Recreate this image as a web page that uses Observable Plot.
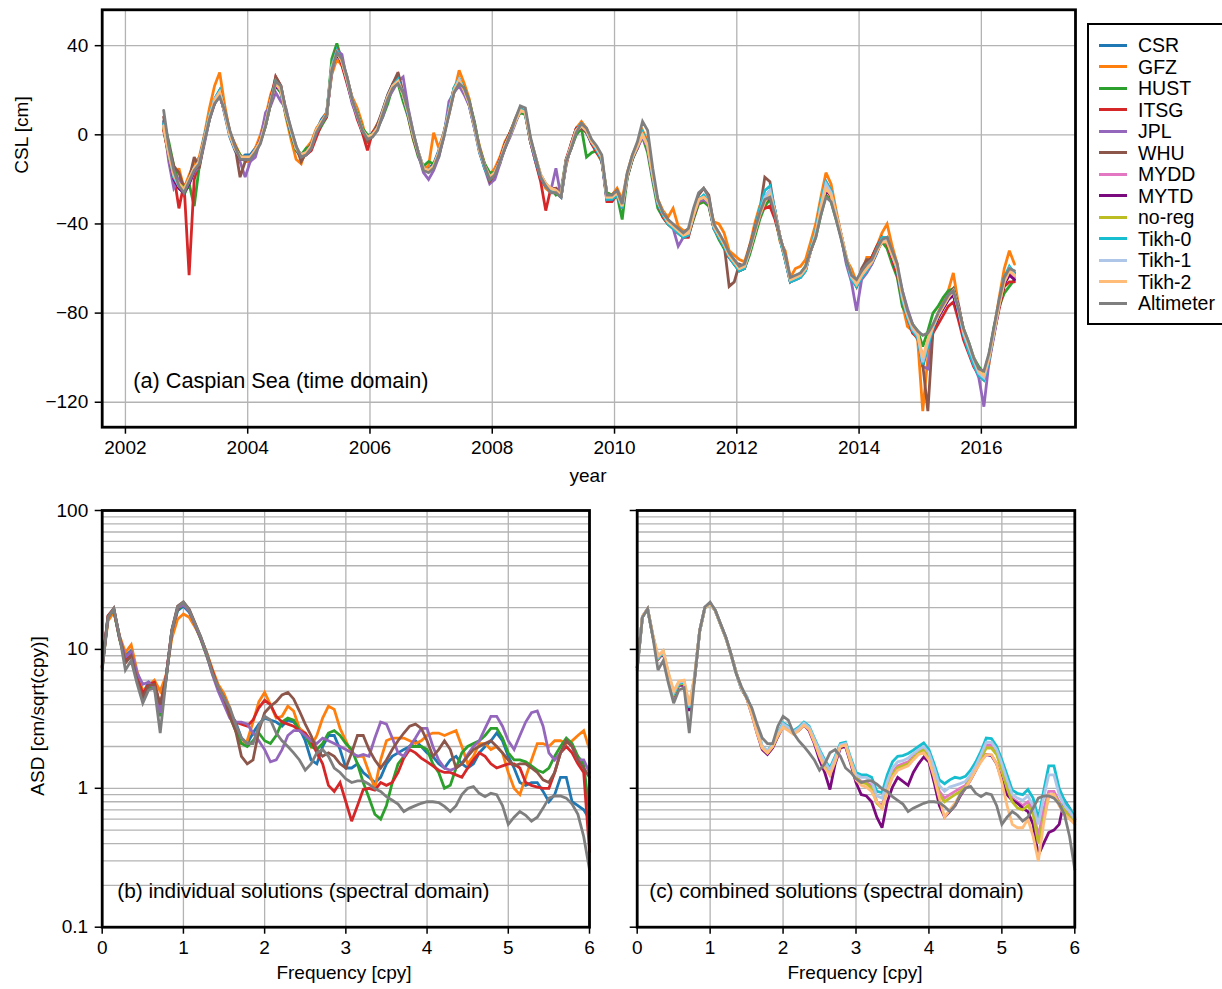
<!DOCTYPE html>
<html><head><meta charset="utf-8">
<script src="https://cdn.jsdelivr.net/npm/d3@7"></script>
<script src="https://cdn.jsdelivr.net/npm/@observablehq/plot@0.6"></script>
<style>
body{margin:0;background:#fff;font-family:"Liberation Sans",Arial,Helvetica,sans-serif;}
#wrap{position:relative;width:1222px;height:989px;overflow:hidden;background:#fff;}
#wrap svg{position:absolute;}
.ttl{position:absolute;font-size:19px;color:#000;white-space:nowrap;line-height:22px;}
.rot{transform:translate(-50%,-50%) rotate(-90deg);}
.ctr{transform:translate(-50%,-50%);}
</style></head><body><div id="wrap"></div>
<script>
// ---------- names / colours ----------
const seriesNames = ["CSR","GFZ","HUST","ITSG","JPL","WHU","MYDD","MYTD","no-reg","Tikh-0","Tikh-1","Tikh-2","Altimeter"];
const seriesColors = ["#1f77b4","#ff7f0e","#2ca02c","#d62728","#9467bd","#8c564b","#e377c2","#7b0a7e","#bcbd22","#17becf","#aec7e8","#ffbb78","#7f7f7f"];
const individualNames = ["CSR","GFZ","HUST","ITSG","JPL","WHU","Altimeter"];
const combinedNames = ["MYDD","MYTD","no-reg","Tikh-0","Tikh-1","Tikh-2","Altimeter"];

// ---------- axis ticks ----------
const yearTicks = [2002,2004,2006,2008,2010,2012,2014,2016];
const cslTicks = [-120,-80,-40,0,40];
const freqTicks = [0,1,2,3,4,5,6];
const asdTicks = [0.1,1,10,100];
const asdTickLabels = ["0.1","1","10","100"];

// ---------- (a) monthly CSL [cm], Aug 2002 .. Jul 2016 ----------
const firstMonth = 2002 + 7.5/12;
const cslCSR = [5,-7,-19,-24,-26,
-22,-14,-11,-1,9,16,20,9,-1,-7,-11,-9,
-9,-6,-2,6,16,22,19,9,1,-7,-10,-7,
-4,2,7,10,31,38,32,24,15,9,1,-2,
1,4,11,18,23,25,17,9,-1,-9,-16,-15,
-13,-7,1,11,21,25,19,13,3,-8,-15,-20,
-16,-11,-4,1,7,12,9,-3,-11,-19,-23,-25,
-26,-28,-13,-4,3,5,1,-4,-7,-11,-29,-29,
-27,-33,-19,-11,-6,1,-4,-19,-31,-36,-40,-42,
-44,-46,-45,-37,-30,-29,-31,-42,-46,-50,-55,-58,
-61,-60,-53,-45,-37,-28,-25,-34,-47,-56,-66,-65,
-64,-61,-51,-44,-31,-22,-26,-37,-46,-56,-64,-68,
-64,-61,-58,-53,-47,-47,-55,-61,-73,-81,-88,-91,
-104,-95,-87,-82,-78,-74,-71,-79,-89,-96,-102,-108,
-110,-101,-89,-77,-66,-60,-62];
const cslGFZ = [3,-10,-20,-15,-24,
-18,-13,-10,0,12,22,28,13,1,-4,-9,-12,
-12,-6,0,8,18,24,21,8,-2,-11,-13,-6,
-3,3,6,10,27,34,31,25,17,12,5,-4,
1,5,9,16,21,25,18,8,-2,-9,-15,-14,
1,-6,1,9,19,29,23,16,4,-5,-13,-18,
-15,-10,-3,1,7,12,10,-3,-11,-19,-24,-26,
-24,-25,-14,-4,3,6,3,-3,-8,-12,-26,-27,
-24,-29,-17,-9,-4,2,-3,-20,-29,-34,-37,-33,
-41,-43,-43,-37,-31,-30,-31,-39,-40,-44,-52,-54,
-56,-57,-50,-40,-32,-31,-28,-36,-48,-52,-64,-60,
-59,-56,-48,-40,-28,-17,-22,-34,-45,-56,-60,-66,
-63,-55,-55,-50,-44,-40,-50,-58,-76,-86,-88,-92,
-124,-100,-87,-80,-75,-70,-62,-76,-88,-95,-101,-108,
-110,-103,-87,-73,-60,-52,-58];
const cslHUST = [6,-3,-14,-22,-27,
-22,-32,-14,-3,7,15,19,10,0,-5,-9,-11,
-11,-7,-3,4,14,22,19,9,0,-7,-9,-6,
-5,0,4,8,34,41,33,24,15,10,3,0,
0,3,8,14,22,23,15,8,-2,-10,-14,-12,
-13,-10,0,11,21,25,21,15,6,-6,-13,-17,
-17,-13,-4,1,6,10,9,-3,-12,-20,-23,-24,
-27,-25,-11,-6,0,3,-10,-8,-7,-12,-26,-27,
-27,-38,-19,-11,-5,-1,-8,-21,-33,-37,-40,-42,
-44,-46,-45,-38,-31,-30,-32,-42,-47,-51,-54,-58,
-61,-60,-54,-46,-38,-32,-29,-37,-47,-56,-65,-64,
-62,-59,-52,-46,-36,-27,-30,-38,-46,-57,-64,-66,
-63,-59,-55,-50,-48,-51,-58,-64,-77,-81,-85,-88,
-95,-88,-80,-77,-73,-70,-69,-77,-87,-93,-100,-104,
-107,-99,-86,-77,-71,-68,-65];
const cslITSG = [2,-9,-18,-33,-22,
-63,-20,-12,-1,8,15,20,11,1,-5,-10,-10,
-10,-7,-2,6,16,26,22,11,1,-6,-9,-9,
-7,-1,5,8,30,39,31,23,15,7,1,-7,
1,4,9,17,23,27,18,9,-1,-9,-15,-16,
-14,-8,0,10,20,24,20,14,5,-7,-14,-20,
-17,-11,-4,1,6,11,10,-3,-12,-21,-34,-24,
-24,-27,-11,-4,3,4,2,-4,-8,-11,-30,-30,
-27,-33,-18,-10,-6,0,-6,-19,-31,-37,-40,-42,
-44,-46,-46,-37,-30,-29,-31,-42,-46,-50,-55,-58,
-61,-60,-52,-42,-34,-33,-32,-38,-46,-54,-65,-64,
-63,-60,-52,-44,-31,-24,-28,-37,-46,-56,-64,-66,
-63,-58,-55,-50,-46,-49,-56,-63,-74,-82,-89,-91,
-100,-95,-89,-85,-81,-77,-75,-83,-92,-98,-104,-108,
-109,-101,-89,-78,-68,-66,-66];
const cslJPL = [6,-12,-24,-20,-26,
-22,-17,-14,-4,7,14,18,10,1,-5,-12,-19,
-12,-10,-2,10,13,19,15,12,2,-6,-10,-9,
-6,2,5,9,28,38,36,24,14,8,2,-2,
0,3,8,16,20,24,26,12,1,-9,-17,-20,
-16,-10,-1,15,19,22,18,13,3,-7,-15,-22,
-20,-13,-6,-1,5,11,11,-3,-12,-18,-22,-25,
-15,-28,-13,-5,2,5,2,-3,-6,-11,-29,-28,
-26,-33,-18,-10,-6,-1,-6,-19,-31,-35,-39,-42,
-50,-46,-45,-36,-30,-29,-31,-42,-46,-50,-55,-57,
-60,-59,-52,-43,-37,-29,-26,-34,-46,-56,-66,-65,
-64,-61,-52,-44,-32,-21,-25,-37,-46,-58,-66,-79,
-65,-62,-58,-52,-48,-47,-54,-60,-70,-78,-85,-90,
-104,-105,-88,-81,-77,-72,-70,-76,-88,-97,-103,-109,
-122,-102,-90,-76,-66,-61,-63];
const cslWHU = [8,-5,-14,-17,-24,
-20,-10,-15,-2,7,15,18,10,1,-5,-19,-12,
-10,-8,-3,4,14,26,22,10,2,-5,-12,-8,
-4,1,6,9,30,38,33,26,16,9,2,-3,
0,5,11,18,23,28,19,10,0,-8,-15,-16,
-14,-9,0,10,20,25,20,14,4,-7,-14,-21,
-18,-12,-6,0,6,12,10,-2,-10,-18,-22,-25,
-24,-28,-12,-6,2,3,1,-3,-7,-11,-28,-27,
-25,-31,-19,-11,-5,1,-4,-18,-30,-35,-38,-41,
-44,-45,-44,-36,-27,-24,-27,-41,-44,-49,-68,-66,
-58,-59,-50,-43,-34,-19,-21,-35,-46,-55,-66,-64,
-63,-60,-52,-45,-33,-24,-27,-36,-45,-55,-63,-68,
-60,-56,-56,-51,-47,-46,-54,-61,-74,-82,-88,-91,
-103,-124,-88,-82,-77,-72,-69,-77,-88,-95,-102,-107,
-109,-99,-87,-75,-64,-60,-62];
const cslMYDD = [4,-8,-19,-23,-25,
-21,-15,-12,-2,8,15,19,10,0,-6,-10,-11,
-10,-7,-3,5,15,23,20,10,1,-6,-9,-8,
-5,1,6,9,30,37,33,25,16,9,2,-1,
0,3,10,17,22,24,18,9,0,-8,-15,-16,
-14,-8,0,10,20,24,20,14,4,-7,-14,-19,
-17,-12,-5,0,6,11,10,-2,-11,-19,-23,-24,
-25,-27,-12,-5,2,4,2,-3,-7,-11,-28,-28,
-26,-32,-18,-10,-5,0,-5,-19,-30,-35,-39,-41,
-43,-45,-44,-36,-29,-28,-30,-41,-45,-49,-54,-57,
-60,-59,-52,-44,-36,-30,-27,-35,-46,-55,-65,-64,
-63,-60,-52,-45,-33,-24,-27,-36,-45,-56,-64,-67,
-63,-60,-57,-52,-48,-48,-55,-61,-73,-81,-87,-90,
-101,-93,-86,-81,-77,-73,-71,-79,-89,-95,-101,-107,
-109,-100,-88,-76,-66,-62,-64];
const cslMYTD = [3,-9,-20,-24,-26,
-22,-16,-13,-2,8,14,18,10,0,-6,-11,-11,
-10,-7,-3,5,15,22,20,10,1,-6,-9,-8,
-5,1,6,9,30,36,33,25,16,9,2,-1,
0,3,10,17,22,24,18,9,0,-8,-15,-16,
-14,-8,0,10,20,24,20,14,4,-7,-14,-19,
-17,-12,-5,0,6,11,10,-2,-11,-19,-23,-25,
-25,-27,-12,-5,2,4,2,-3,-7,-11,-28,-29,
-26,-32,-18,-10,-5,0,-5,-19,-30,-36,-39,-41,
-43,-45,-44,-36,-29,-28,-30,-41,-45,-49,-55,-57,
-60,-59,-52,-44,-36,-30,-28,-35,-46,-55,-65,-64,
-63,-60,-52,-45,-34,-25,-27,-36,-45,-56,-64,-67,
-63,-60,-57,-52,-48,-48,-55,-61,-73,-81,-87,-90,
-102,-94,-87,-82,-78,-74,-72,-80,-90,-96,-102,-107,
-109,-100,-88,-76,-67,-63,-65];
const cslNoReg = [3,-9,-19,-22,-24,
-20,-15,-13,-2,8,15,19,11,0,-6,-10,-10,
-10,-7,-3,5,15,24,21,10,2,-6,-9,-8,
-5,2,6,9,31,37,33,25,16,9,2,-1,
0,3,10,17,22,24,18,10,0,-8,-15,-16,
-14,-8,0,10,20,25,20,14,4,-7,-14,-19,
-17,-12,-5,0,6,11,10,-2,-10,-18,-22,-24,
-25,-27,-12,-5,2,4,2,-3,-6,-10,-28,-28,
-26,-32,-18,-10,-5,1,-5,-18,-30,-35,-39,-41,
-43,-45,-44,-36,-29,-28,-30,-41,-45,-49,-54,-57,
-60,-59,-52,-44,-36,-30,-27,-35,-46,-55,-65,-64,
-63,-60,-52,-45,-33,-23,-27,-36,-45,-55,-63,-67,
-63,-60,-57,-52,-48,-48,-54,-60,-72,-80,-86,-89,
-102,-92,-86,-81,-77,-73,-70,-78,-88,-94,-100,-106,
-108,-100,-88,-76,-66,-61,-63];
const cslTikh0 = [5,-8,-19,-23,-25,
-21,-15,-12,-1,9,16,20,10,0,-6,-10,-11,
-10,-7,-3,5,15,24,20,10,1,-6,-9,-8,
-5,2,6,9,31,38,33,25,16,9,2,-1,
0,3,10,17,22,25,18,9,0,-8,-15,-16,
-14,-8,0,11,21,25,20,14,4,-7,-15,-20,
-17,-12,-5,0,6,12,10,-2,-11,-19,-23,-25,
-25,-27,-12,-5,2,5,2,-3,-7,-11,-29,-29,
-27,-33,-18,-10,-5,1,-5,-19,-31,-36,-40,-42,
-44,-46,-45,-36,-29,-27,-30,-42,-46,-50,-55,-58,
-61,-60,-52,-43,-33,-25,-23,-34,-47,-56,-66,-65,
-64,-61,-51,-43,-30,-21,-25,-36,-46,-56,-65,-68,
-64,-61,-57,-51,-46,-46,-54,-61,-74,-82,-88,-91,
-103,-95,-87,-81,-76,-72,-70,-79,-90,-97,-103,-108,
-110,-101,-88,-75,-64,-59,-62];
const cslTikh1 = [4,-8,-18,-23,-25,
-20,-15,-12,-2,8,16,19,10,0,-6,-10,-10,
-10,-7,-3,5,15,23,20,10,2,-6,-9,-8,
-5,2,6,9,30,37,33,25,16,9,2,-1,
0,3,10,17,22,24,18,10,0,-8,-15,-16,
-14,-8,0,10,20,25,20,14,4,-7,-14,-19,
-17,-12,-5,0,6,11,10,-2,-10,-18,-22,-24,
-25,-27,-12,-5,2,4,2,-3,-6,-10,-28,-28,
-26,-32,-18,-10,-5,0,-5,-18,-30,-35,-39,-41,
-43,-45,-44,-36,-29,-28,-30,-41,-45,-49,-54,-57,
-60,-59,-52,-44,-35,-28,-25,-35,-46,-55,-65,-64,
-63,-60,-52,-44,-32,-22,-26,-36,-45,-55,-64,-67,
-63,-60,-57,-52,-47,-47,-54,-60,-73,-81,-87,-90,
-102,-93,-86,-81,-77,-73,-70,-78,-89,-95,-101,-107,
-109,-100,-88,-76,-65,-60,-63];
const cslTikh2 = [4,-8,-18,-22,-25,
-20,-15,-12,-2,8,15,19,10,0,-6,-10,-10,
-10,-7,-3,5,15,23,20,10,2,-6,-9,-8,
-5,2,6,9,30,37,33,25,16,9,2,-1,
0,3,10,17,22,24,18,10,0,-8,-15,-16,
-14,-8,0,10,20,24,20,14,4,-7,-14,-19,
-17,-12,-5,0,6,11,10,-2,-10,-18,-22,-24,
-25,-27,-12,-5,2,4,2,-3,-6,-10,-28,-28,
-26,-32,-18,-10,-5,0,-5,-18,-30,-35,-39,-41,
-43,-45,-44,-36,-29,-28,-30,-41,-45,-49,-54,-57,
-60,-59,-52,-44,-36,-30,-27,-35,-46,-55,-65,-64,
-63,-60,-52,-45,-33,-24,-27,-36,-45,-55,-63,-67,
-63,-60,-57,-52,-48,-48,-54,-60,-72,-80,-86,-89,
-100,-92,-86,-81,-77,-73,-70,-78,-88,-94,-100,-106,
-108,-100,-88,-76,-66,-61,-63];
const cslAltimeter = [11,-5,-16,-23,-26,
-21,-16,-13,-3,7,14,17,11,2,-5,-11,-11,
-11,-8,-4,4,14,24,22,11,3,-5,-10,-9,
-6,1,5,9,29,37,34,26,16,9,2,-2,
-1,2,9,16,21,23,19,11,1,-8,-16,-17,
-15,-9,-1,9,19,23,21,15,5,-6,-14,-20,
-18,-12,-6,0,7,13,12,-1,-10,-19,-23,-26,
-26,-28,-12,-6,1,5,3,-2,-5,-9,-27,-27,
-25,-31,-17,-9,-3,6,2,-15,-29,-35,-38,-40,
-42,-44,-42,-33,-26,-24,-28,-40,-44,-48,-53,-56,
-59,-58,-51,-43,-35,-29,-28,-36,-46,-54,-64,-63,
-62,-59,-52,-46,-36,-28,-30,-38,-47,-56,-63,-65,
-61,-58,-56,-51,-47,-46,-52,-58,-70,-79,-85,-88,
-90,-89,-85,-80,-76,-72,-70,-78,-87,-93,-100,-105,
-106,-98,-86,-74,-64,-60,-61];

// ---------- (b),(c) ASD [cm/sqrt(cpy)], frequency step 1/14 cpy, 0..6 ----------
const freqStep = 1/14;
const asdCSR = [7.5,17,19,12,9,9.8,6.5,4.8,5.8,5.5,3.8,6.2,13,19,20.5,18.5,15,12,9.5,7,5.3,
4.5,3.5,3.0,2.3,2.1,2.5,2.9,3.2,3.1,3.0, 2.8,3.1,3.0,2.7,2.2,1.6,1.5,2.0,2.4,2.4,
1.9,1.4,1.4,1.5,1.3,1.2,1.1,1.2,1.5,1.7, 1.8,1.9,2.0,2.2,2.0,1.8,1.7,1.5,1.4,1.6,
1.7,1.5,1.4,1.5,1.8,2.0,2.2,2.5,2.2,1.7, 1.4,1.1,1.05,1.1,1.1,0.95,0.8,0.9,1.2,1.2, 0.8,0.75,0.7,0.6];
const asdGFZ = [7.5,16,18.5,12.5,9.5,10.8,7,5,5.5,6,5,6.5,12,16.5,18,17,14.5,12,9.5,7.2,5.6,
4.8,3.8,2.6,2.1,2.2,3.0,4.2,4.9,4.0,3.2, 3.3,3.9,3.6,2.7,2.5,2.0,2.4,3.2,3.9,3.7,
2.7,2.2,1.8,1.7,1.7,1.3,1.0,1.6,2.2,2.3, 2.3,2.3,2.2,2.1,2.2,2.4,2.5,2.5,2.4,2.5,
2.6,2.0,1.5,1.7,2.1,2.1,1.9,2.0,1.8,1.3, 1.0,0.9,1.2,1.6,2.1,2.1,2.0,2.2,2.2,2.1, 2.2,2.4,2.6,1.9];
const asdHUST = [7.3,17,19.2,11.8,8.5,9.5,6.2,4.5,5.2,5.6,3.3,6,13.5,19.5,21,19,15,11.8,9,6.8,5.2,
4.3,3.3,2.6,2.1,2.0,2.2,2.5,2.2,2.1,2.4, 3.0,3.2,3.1,2.6,2.4,2.0,1.9,2.1,2.5,2.6,
2.4,2.1,1.9,1.5,1.1,0.85,0.65,0.6,0.75,1.1, 1.5,1.7,2.0,2.0,2.0,1.9,1.5,1.3,1.0,1.05,
1.4,1.8,2.0,2.1,2.2,2.4,2.7,2.7,2.3,1.8, 1.6,1.6,1.55,1.45,1.35,1.3,1.4,1.7,2.0,2.3, 2.1,1.7,1.5,0.65];
const asdITSG = [7.4,17.5,19.5,12,8.3,9.2,6.4,4.8,5.6,5.8,3.9,6.3,13.5,19.8,21.2,19,15.2,12,9.2,7,5.3,
4.5,3.4,3.0,2.9,2.8,3.1,3.8,4.3,4.0,3.3, 3.0,2.9,2.8,2.6,2.5,2.2,1.8,1.5,1.05,0.95,
1.1,0.8,0.58,0.75,0.98,1.0,0.97,1.1,1.05,1.1, 1.3,1.65,1.9,1.8,1.65,1.55,1.45,1.35,1.3,1.3,
1.25,1.2,1.4,1.6,1.8,1.7,1.5,1.4,1.45,1.5, 1.5,1.4,1.1,1.05,1.02,1.0,1.0,1.3,1.8,2.0, 1.8,1.5,1.3,0.35];
const asdJPL = [7.4,17,19.5,12.2,8.8,9.6,6.8,5.6,5.8,5.2,3.5,6.2,13.5,20,21,18.8,15,12,9.1,6.6,5.0,
4.0,3.2,3.0,3.0,2.9,2.5,2.2,1.9,1.55,1.6, 1.9,2.4,2.6,2.6,2.4,2.2,2.1,2.3,2.2,2.1,
2.0,1.9,1.8,1.7,1.75,1.7,2.3,3.0,2.9,2.3, 1.8,1.7,2.0,2.3,2.7,2.7,2.0,1.6,1.4,1.35,
1.4,1.5,1.75,2.0,2.2,2.7,3.3,3.3,2.8,2.2, 1.9,2.4,3.0,3.5,3.6,2.8,1.8,1.6,1.8,2.2, 2.0,1.6,1.6,1.3];
const asdWHU = [7.6,17.3,19.8,12.2,8,9,6,4.5,5.5,5.6,4,6.2,13.8,20.5,22,19.5,15.5,12.3,9.3,6.8,5.3,
4.5,3.3,2.6,1.7,1.5,1.6,2.6,3.5,3.9,4.2, 4.7,4.9,4.4,3.6,2.9,2.4,1.9,1.7,1.8,1.7,
1.5,1.4,1.8,2.4,2.4,1.9,1.6,1.4,1.6,1.9, 2.2,2.5,2.8,2.9,2.7,2.2,1.7,1.9,2.2,1.9,
1.4,1.5,1.7,1.9,2.0,2.1,2.2,2.0,1.8,1.6, 1.45,1.5,1.5,1.4,1.3,1.15,1.1,1.3,1.8,2.2, 2.0,1.6,1.4,1.2];
const asdMYDD = [7.4,17.2,19.5,12.5,8.6,9.5,6.5,4.7,5.6,5.6,3.7,6.2,13.6,20,21.5,19,15.2,12.2,9.2,6.8,5.2,
4.5,3.5,2.6,1.95,1.8,2.0,2.4,2.85,2.7,2.5, 2.65,2.9,2.7,2.2,1.8,1.5,1.25,1.6,2.0,2.05,
1.55,1.2,1.12,1.1,1.05,0.8,0.75,1.0,1.3,1.45, 1.5,1.55,1.7,1.85,1.95,1.75,1.3,0.95,0.85,0.9,
0.95,1.0,1.05,1.2,1.4,1.7,2.05,2.05,1.8,1.4, 1.05,0.85,0.8,0.75,0.8,0.7,0.45,0.7,0.95,0.95, 0.8,0.7,0.65,0.6];
const asdMYTD = [7.4,17.2,19.5,12.5,8.5,9.4,6.4,4.6,5.5,5.5,3.6,6.1,13.6,20,21.5,19,15.2,12.2,9.2,6.8,5.2,
4.5,3.4,2.5,1.9,1.75,1.95,2.35,2.8,2.65,2.5, 2.6,2.85,2.6,2.1,1.6,1.3,0.98,1.5,1.95,2.0,
1.5,1.1,0.9,0.88,0.8,0.62,0.52,0.8,1.02,1.2, 1.12,1.05,1.3,1.5,1.68,1.55,1.1,0.75,0.62,0.68,
0.75,0.88,1.0,1.15,1.35,1.6,1.75,1.72,1.5,1.15, 0.9,0.82,0.78,0.72,0.68,0.55,0.33,0.4,0.48,0.5, 0.55,0.82,0.72,0.6];
const asdNoReg = [7.4,17.1,19.4,12.4,8.6,9.6,6.5,4.7,5.6,5.7,3.8,6.2,13.5,19.9,21.3,19,15.1,12.1,9.2,6.8,5.2,
4.5,3.5,2.6,1.95,1.8,2.0,2.4,2.85,2.7,2.5, 2.65,2.9,2.7,2.2,1.8,1.5,1.3,1.6,2.0,2.05,
1.55,1.2,1.1,1.08,1.0,0.78,0.72,0.98,1.25,1.4, 1.45,1.5,1.65,1.8,1.9,1.7,1.25,0.9,0.8,0.85,
0.9,0.95,1.02,1.18,1.38,1.65,1.95,1.95,1.75,1.35, 1.0,0.8,0.72,0.7,0.75,0.65,0.4,0.6,0.88,0.9, 0.78,0.7,0.62,0.58];
const asdTikh0 = [7.4,17.2,19.5,12.6,8.7,9.6,6.6,4.8,5.7,5.8,3.8,6.3,13.6,20,21.5,19,15.2,12.2,9.2,6.8,5.2,
4.6,3.6,2.7,2.0,1.85,2.1,2.5,2.95,2.8,2.6, 2.75,3.0,2.8,2.3,1.9,1.6,1.4,1.7,2.1,2.15,
1.65,1.3,1.25,1.25,1.2,0.95,0.93,1.25,1.55,1.7, 1.72,1.78,1.88,2.0,2.12,1.9,1.5,1.15,1.08,1.15,
1.2,1.18,1.22,1.35,1.55,1.85,2.3,2.28,2.0,1.6, 1.25,0.97,0.92,0.9,0.98,0.85,0.6,0.95,1.45,1.45, 1.0,0.82,0.72,0.62];
const asdTikh1 = [7.4,17.2,19.5,12.6,8.8,9.7,6.7,4.9,5.8,5.9,3.9,6.3,13.6,20,21.4,19,15.2,12.2,9.2,6.8,5.2,
4.6,3.6,2.7,2.0,1.85,2.05,2.45,2.9,2.75,2.55, 2.7,2.95,2.75,2.25,1.85,1.55,1.35,1.65,2.05,2.1,
1.6,1.25,1.2,1.2,1.12,0.88,0.85,1.12,1.4,1.55, 1.58,1.65,1.78,1.9,2.0,1.8,1.4,1.05,0.95,1.02,
1.05,1.08,1.12,1.25,1.45,1.75,2.15,2.15,1.9,1.5, 1.15,0.9,0.85,0.82,0.88,0.75,0.55,0.85,1.25,1.25, 0.9,0.75,0.68,0.6];
const asdTikh2 = [7.5,17.3,19.6,12.8,9.0,9.8,6.8,5.0,5.9,6.0,4.0,6.4,13.7,20,21.4,19,15.2,12.2,9.2,6.8,5.3,
4.5,3.4,2.5,1.95,1.8,2.0,2.4,2.75,2.6,2.45, 2.6,2.85,2.65,2.15,1.7,1.4,1.25,1.55,2.0,2.05,
1.55,1.15,1.05,1.02,0.95,0.8,0.72,0.95,1.2,1.35, 1.4,1.45,1.6,1.75,1.8,1.6,1.2,0.85,0.62,0.7,
0.78,0.9,1.0,1.15,1.35,1.55,1.75,1.75,1.5,1.1, 0.75,0.55,0.52,0.52,0.6,0.45,0.3,0.55,0.9,0.9, 0.75,0.65,0.6,0.55];
const asdAltimeter = [7.1,17,19.6,12.3,7.1,8.3,5.7,4.1,5.1,5.3,2.5,6.0,13.7,20.2,21.9,19.1,15.3,12.3,9.3,6.7,5.4,
4.5,3.8,2.9,2.3,2.1,2.1,2.8,3.3,3.1,2.5, 2.2,2.0,1.8,1.6,1.35,1.5,1.8,1.9,1.7,1.4,
1.3,1.17,1.1,1.13,1.13,1.07,0.99,0.95,0.87,0.82, 0.77,0.68,0.72,0.75,0.78,0.8,0.8,0.79,0.74,0.68,
0.75,0.9,1.0,1.03,0.92,0.87,0.92,0.9,0.75,0.55, 0.62,0.68,0.64,0.58,0.62,0.72,0.85,0.88,0.88,0.85, 0.77,0.65,0.45,0.26];

// ---------- lookup tables built from the arrays ----------
const cslBy = {"CSR":cslCSR,"GFZ":cslGFZ,"HUST":cslHUST,"ITSG":cslITSG,"JPL":cslJPL,"WHU":cslWHU,"MYDD":cslMYDD,"MYTD":cslMYTD,"no-reg":cslNoReg,"Tikh-0":cslTikh0,"Tikh-1":cslTikh1,"Tikh-2":cslTikh2,"Altimeter":cslAltimeter};
const asdBy = {"CSR":asdCSR,"GFZ":asdGFZ,"HUST":asdHUST,"ITSG":asdITSG,"JPL":asdJPL,"WHU":asdWHU,"MYDD":asdMYDD,"MYTD":asdMYTD,"no-reg":asdNoReg,"Tikh-0":asdTikh0,"Tikh-1":asdTikh1,"Tikh-2":asdTikh2,"Altimeter":asdAltimeter};
const colorOf = Object.fromEntries(seriesNames.map((n,i)=>[n, seriesColors[i]]));

const cslRows = n => cslBy[n].map((v,i)=>({t: firstMonth + i/12, v}));
const asdRows = n => asdBy[n].map((v,i)=>({f: i*freqStep, v}));

const FONT = '"Liberation Sans", Arial, Helvetica, sans-serif';
const GRID = "#b3b3b3";
const baseStyle = {fontFamily: FONT, fontSize: "19px", color: "#000", background: "transparent", overflow: "visible"};
const minus = d => d < 0 ? "\u2212" + Math.abs(d) : String(d);
const LW = 2.8;

const wrap = document.getElementById("wrap");

// ---------- (a) time domain ----------
const plotA = Plot.plot({
  width: 1080, height: 490,
  marginLeft: 101.7, marginRight: 5, marginTop: 9.3, marginBottom: 63.3,
  style: baseStyle,
  x: {domain: [2001.62, 2017.54]},
  y: {domain: [-131.2, 56.1]},
  marks: [
    Plot.gridX(yearTicks, {stroke: GRID, strokeOpacity: 1, strokeWidth: 1.3}),
    Plot.gridY(cslTicks, {stroke: GRID, strokeOpacity: 1, strokeWidth: 1.3}),
    ...seriesNames.map(n => Plot.line(cslRows(n), {x: "t", y: "v", stroke: colorOf[n], strokeWidth: LW, strokeLinejoin: "miter", strokeMiterlimit: 3})),
    Plot.frame({stroke: "#000", strokeWidth: 2.8}),
    Plot.axisX(yearTicks, {tickSize: 7, tickPadding: 6, strokeWidth: 1.5, tickFormat: d => String(d), label: null}),
    Plot.axisY(cslTicks, {tickSize: 7, tickPadding: 7, strokeWidth: 1.5, tickFormat: minus, label: null}),
    Plot.text(["(a) Caspian Sea (time domain)"], {text: d => d, frameAnchor: "bottom-left", dx: 31, dy: -39, textAnchor: "start", fontSize: 21.7})
  ]
});
plotA.style.left = "0px"; plotA.style.top = "0px";
wrap.appendChild(plotA);

// ---------- spectral panels ----------
const logGrid = d3.scaleLog().domain([0.1, 100]).ticks();
function spectral(names, opts) {
  return Plot.plot({
    width: opts.width, height: 499,
    marginLeft: opts.ml, marginRight: opts.mr, marginTop: 20, marginBottom: 62.3,
    style: baseStyle,
    x: {domain: [0, 6]},
    y: {type: "log", domain: [0.1, 100]},
    marks: [
      Plot.gridX(freqTicks, {stroke: GRID, strokeOpacity: 1, strokeWidth: 1.3}),
      Plot.gridY(logGrid, {stroke: GRID, strokeOpacity: 1, strokeWidth: 1.3}),
      ...names.map(n => Plot.line(asdRows(n), {x: "f", y: "v", stroke: colorOf[n], strokeWidth: LW, strokeLinejoin: "miter", strokeMiterlimit: 3})),
      Plot.frame({stroke: "#000", strokeWidth: 2.8}),
      Plot.axisX(freqTicks, {tickSize: 7, tickPadding: 6, strokeWidth: 1.5, tickFormat: d => String(d), label: null}),
      Plot.axisY(asdTicks, {tickSize: 7, tickPadding: 7, strokeWidth: 1.5, label: null,
        tickFormat: opts.labels ? (d => asdTickLabels[asdTicks.indexOf(d)]) : (() => "")}),
      Plot.text([opts.title], {text: d => d, frameAnchor: "bottom-left", dx: opts.dx, dy: -29, textAnchor: "start", fontSize: 20.8})
    ]
  });
}
const plotB = spectral(individualNames, {width: 600, ml: 101.7, mr: 11, labels: true, dx: 15, title: "(b) individual solutions (spectral domain)"});
plotB.style.left = "0px"; plotB.style.top = "490px";
wrap.appendChild(plotB);
const plotC = spectral(combinedNames, {width: 622, ml: 36.7, mr: 147.7, labels: false, dx: 12, title: "(c) combined solutions (spectral domain)"});
plotC.style.left = "600px"; plotC.style.top = "490px";
wrap.appendChild(plotC);

// ---------- axis titles ----------
function title(txt, x, y, rot) {
  const d = document.createElement("div");
  d.className = "ttl " + (rot ? "rot" : "ctr");
  d.textContent = txt;
  d.style.left = x + "px"; d.style.top = y + "px";
  wrap.appendChild(d);
}
title("CSL [cm]", 22, 135, true);
title("year", 588, 476, false);
title("ASD [cm/sqrt(cpy)]", 38, 716, true);
title("Frequency [cpy]", 344, 973, false);
title("Frequency [cpy]", 855, 973, false);

// ---------- legend ----------
const lg = document.createElement("div");
lg.style.cssText = "position:absolute;left:1087px;top:23px;width:150px;height:302px;border:2px solid #000;background:#fff;box-sizing:border-box;";
wrap.appendChild(lg);
seriesNames.forEach((n, i) => {
  const cy = 45 + i * 21.5;
  const sw = document.createElement("div");
  sw.style.cssText = `position:absolute;left:1099px;top:${cy - 1.5}px;width:28px;height:3px;background:${seriesColors[i]};`;
  wrap.appendChild(sw);
  const tx = document.createElement("div");
  tx.className = "ttl";
  tx.style.fontSize = "19.5px";
  tx.style.left = "1138px"; tx.style.top = (cy - 11) + "px";
  tx.textContent = n;
  wrap.appendChild(tx);
});
</script></body></html>
